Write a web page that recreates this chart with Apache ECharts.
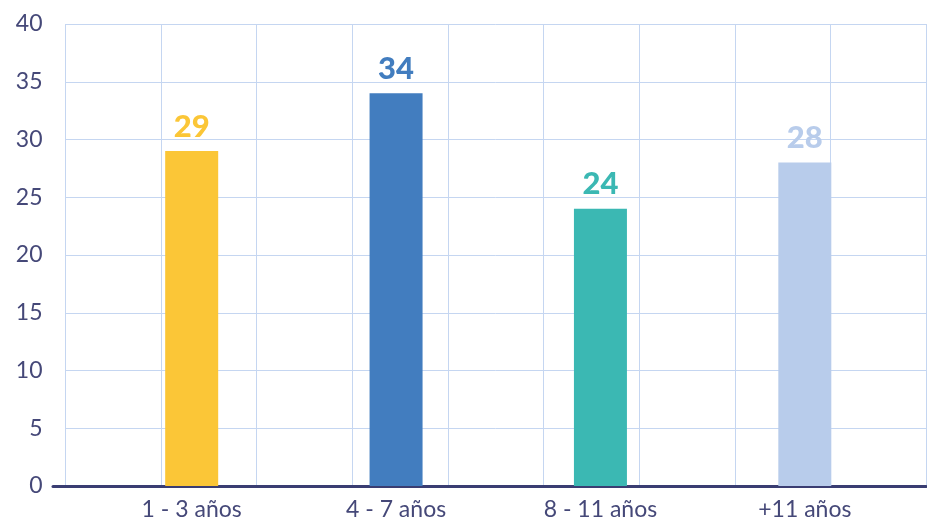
<!DOCTYPE html>
<html>
<head>
<meta charset="utf-8">
<script src="https://cdn.jsdelivr.net/npm/echarts@6/dist/echarts.min.js"></script>
<style>html,body{margin:0;padding:0;background:#fff}#c{width:927px;height:522px}</style>
</head>
<body>
<div id="c"></div>
<script>
var categories = ['1 - 3 años', '4 - 7 años', '8 - 11 años', '+11 años'];
var values = [29, 34, 24, 28];
var barColors = ['#FBC637', '#427DBF', '#3BB8B3', '#B8CCEB'];
var yTicks = [0, 5, 10, 15, 20, 25, 30, 35, 40];

var textColor = '#454878';
var gridColor = '#C5D6F1';
var axisColor = '#3A3D72';
var fontFam = 'Lato, "Noto Sans", sans-serif';

var chart = echarts.init(document.getElementById('c'), null, {renderer: 'canvas'});
chart.setOption({
  animation: false,
  grid: [
    {left: 65.5, right: 1, top: 24, bottom: 36},
    {left: 89.5, right: 20, top: 24, bottom: 36},
    {left: 53, right: 1, top: 24, bottom: 36}
  ],
  xAxis: [
    {gridIndex: 0, type: 'value', min: 0, max: 9, interval: 1,
     axisLine: {show: false}, axisTick: {show: false}, axisLabel: {show: false},
     splitLine: {show: true, lineStyle: {color: gridColor, width: 1}}},
    {gridIndex: 1, type: 'category', data: categories,
     axisLine: {show: false}, axisTick: {show: false},
     axisLabel: {color: textColor, fontSize: 23, fontFamily: fontFam, margin: 12},
     splitLine: {show: false}},
    {gridIndex: 2, type: 'value', min: 0, max: 1,
     axisLine: {show: true, onZero: false, lineStyle: {color: axisColor, width: 3}},
     axisTick: {show: false}, axisLabel: {show: false}, splitLine: {show: false}}
  ],
  yAxis: [
    {gridIndex: 0, type: 'value', min: yTicks[0], max: yTicks[yTicks.length - 1], interval: 5,
     axisLine: {show: false}, axisTick: {show: false},
     axisLabel: {color: textColor, fontSize: 23, fontFamily: fontFam, margin: 23},
     splitLine: {show: true, lineStyle: {color: gridColor, width: 1}}},
    {gridIndex: 1, type: 'value', min: 0, max: 40, interval: 5, show: false},
    {gridIndex: 2, type: 'value', min: 0, max: 40, show: false}
  ],
  series: [{
    type: 'bar',
    xAxisIndex: 1, yAxisIndex: 1,
    barWidth: 53,
    data: values.map(function (v, i) {
      return {value: v, itemStyle: {color: barColors[i]},
              label: {color: barColors[i]}};
    }),
    label: {show: true, position: 'top', distance: 9,
            fontSize: 31, fontWeight: 900, fontFamily: fontFam}
  }]
});
</script>
</body>
</html>
